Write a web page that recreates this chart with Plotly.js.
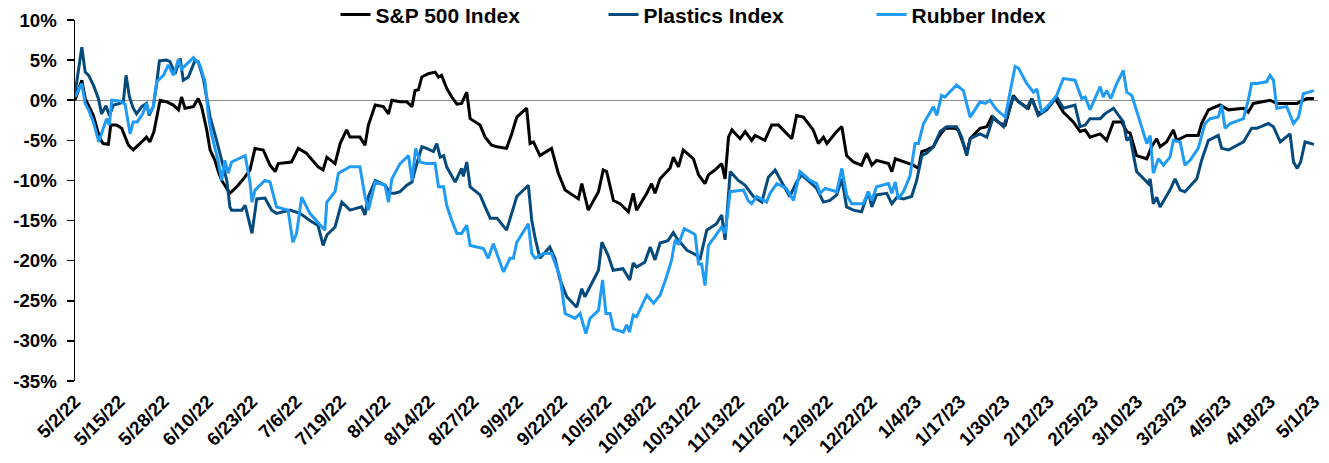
<!DOCTYPE html>
<html>
<head>
<meta charset="utf-8">
<script src="https://cdn.plot.ly/plotly-3.0.1.min.js"></script>
<style>html,body{margin:0;padding:0;background:#fff}#chart{width:1329px;height:463px}</style>
</head>
<body>
<div id="chart"></div>
<script>
// Dates are given as days after 5/2/2022 (the first day on the chart)
const baseDate = '2022-05-02';

const seriesNames = ['S&P 500 Index', 'Plastics Index', 'Rubber Index'];
const seriesColors = ['#000000', '#054a7c', '#1f9bf5'];

const spDays = [0,2,3,4,5.4,7.3,8.3,9.8,10.5,12.2,13.7,15.7,17.1,19.6,21,22,23.2,25,27,28.9,30.4,31.3,32.3,34.8,36.2,37.2,38.7,39.7,41.1,42.1,43.1,45.5,47.5,49.5,51.4,52.9,55.3,57.3,58.8,59.7,63.6,65.6,68,69,71.4,72.9,74,76.4,77.9,79.8,80.8,
  83.7,85.2,86.2,88.2,90.6,92.1,93.1,95.5,97.5,99,99.9,100.9,101.9,103.8,105.8,106.8,107.7,109.2,110.7,112.2,113.6,115.1,116.1,119,120.5,122.4,124,126.8,128.3,129.8,132.7,133.7,134.7,136.6,140,142,144,147.9,148.9,150.8,153.8,155.2,156.2,158.2,160.1,162.6,164,165,168,169.4,170.4,171.9,173.4,174.8,175.8,177.3,178.7,181.7,183.2,185.1,186.1,188,190,191,192,193,195.4,196.9,198.8,199.8,202.7,204.7,206.7,208.6,210.6,212,214,216.9,218.4,219.9,220.9,223.8,225.3,226.7,228.7,231.1,232.6,234.1,235.5,239,240,241,243.4,246.3,247.8,248.8,250.2,252.2,253.7,255.6,258.6,259.5,262,263,265.9,267.9,269.3,271.8,273.3,275.7,277.2,280.1,281.1,283,285.5,288,290.4,293.3,295.3,296.8,298.2,301.2,303.1,305.1,307.5,309,310,311.9,314.9,316.3,317.8,318.8,320.7,322.7,323.7,326.6,330,331,333,336.4,338.9,343.3,344.7,346.2,351.1,353.1,357.5,359,361.9,364];
const spValues = [0,2.5,0.2,-0.6,-1.9,-4.8,-5.4,-5.5,-3.1,-3.1,-3.5,-5.6,-6.2,-5.2,-4.6,-5.2,-3.9,0,-0.2,-0.6,-1.2,0.4,-1,-0.8,0.2,-0.8,-3.7,-6.2,-7.5,-8.9,-10,-11.6,-10.8,-9.8,-8.7,-6.0,-6.2,-8.1,-8.9,-7.9,-7.7,-6.0,-6.6,-7.1,-8.3,-8.7,-7.1,-7.9,-5.4,-3.7,-4.6,
  -4.6,-5.6,-3.1,-0.6,-0.8,-1.7,0,-0.2,-0.2,-0.8,1.2,1.3,2.9,3.3,3.5,2.9,3.1,1.5,0.4,-0.5,-0.4,1.0,-2.3,-3.1,-4.6,-5.6,-5.8,-6.0,-4.2,-2.1,-1.0,-5.4,-5.2,-6.9,-6.0,-9.1,-11.2,-12.3,-10.4,-13.7,-11.4,-8.7,-8.9,-12.5,-12.9,-13.9,-11.6,-13.7,-11.6,-10.4,-11.6,-9.8,-9.1,-8.5,-7.1,-8.3,-6.2,-7.3,-9.3,-10.4,-9.3,-8.7,-7.9,-9.8,-4.6,-3.7,-4.8,-3.9,-5,-4.4,-5,-3.1,-3.1,-3.9,-4.8,-1.9,-2.1,-3.7,-5.4,-4.6,-5.4,-3.9,-3.3,-6.9,-7.7,-8.1,-6.6,-8.1,-7.5,-7.9,-8.9,-7.3,-7.7,-8.1,-8.5,-6.4,-6.2,-5.8,-4.6,-3.5,-3.5,-3.7,-6.6,-4.8,-3.5,-3.3,-2.1,-2.9,-3.1,0.6,-0.2,-1,0.2,-1.7,-1.0,0.2,-1.5,-2.7,-3.9,-3.7,-4.6,-4.2,-5,-2.7,-2.7,-3.9,-4.1,-6.9,-7.3,-5.8,-4.8,-5.8,-5.2,-3.7,-5,-4.4,-4.4,-2.9,-1.2,-0.6,-1.2,-1.0,-1.5,-0.4,0,-0.4,-0.4,-0.4,0.2,0.2];

const plDays = [0,2,3,4,5.4,6.9,7.8,9.1,10.1,11.3,13.2,14.2,15,16,17.1,18.1,19.6,21,21.8,23,24,24.8,26.9,27.9,29.4,30.9,31.8,33.3,35.3,36.2,37.7,39.7,41.6,43.1,44.6,
  45.5,46,49,50,52,53.4,55.8,57.8,59.2,63.2,66.1,69,71.4,72.9,74,76.4,78.4,80.8,
  84.2,85.2,86.2,88.2,91.1,92.6,94,95.5,97.5,99,99.9,101.9,103.3,105.3,106.3,107.3,108.3,109.2,111.7,113.6,114.1,115.1,116.1,119,120.5,122,124,126.8,128.3,129.8,133.2,
  134.2,135.2,136.6,139.5,141,142.5,144.5,147.4,148.9,149.8,153.8,154.8,156.6,158.1,161,163,164,165,167.4,169,170.4,171.9,174.2,175.8,176.8,179.8,182.6,183.6,185.6,
  188.5,190,191,192.5,194.9,196.9,199.3,201.8,203.7,205.7,207.6,210,212,213.5,216.9,217.9,219.9,221.8,223.8,225.3,226.7,228.7,231.1,233.1,234.1,235.5,238.5,240,241.5,243.4,245.8,247.3,248.8,250.2,252.2,254.2,256.1,259,260.5,262,263,265.9,267.9,269.8,272.8,275.7,279.6,281.1,283,285.5,288.4,290.4,293.8,295.3,296.8,298.2,301.2,302.6,305.1,308,309,310,311.9,315.4,315.9,316.8,317.8,318.8,321.7,323.2,324.7,326.1,329.6,331,333,335.9,336.9,338.9,343.3,345.7,347.2,350.6,352.1,354.1,357,358,359.1,360.1,361.4,364];
const plValues = [0.8,6.6,3.5,3.1,1.9,0.2,-1.7,-0.7,-1.9,-0.6,-0.4,-0.2,3.1,0.4,-1,-1.7,-0.8,-0.4,-1.9,-0.8,2.1,4.9,5.0,4.8,3.3,5.2,2.5,2.9,5,4.8,2.7,-2.1,-5,-7.5,-10,
  -13.3,-13.7,-13.7,-13.1,-16.6,-12.3,-12.2,-13.7,-14.1,-13.7,-14.1,-15,-15.6,-18.1,-16.8,-15.8,-12.7,-13.7,
  -13.3,-14.3,-12.0,-10.0,-10.6,-11.6,-11.6,-11.4,-10.6,-10.2,-8.7,-5.8,-6.0,-6.4,-5.4,-7.1,-6.9,-8.3,-10.2,-8.5,-9.5,-7.7,-10.8,-11.8,-13.3,-14.7,-14.7,-16.2,-14.1,-12.0,-10.6,
  -15.0,-17.2,-19.7,-18.3,-19.7,-22.4,-24.5,-25.8,-23.5,-24.5,-21.2,-17.7,-19.3,-21.2,-21.0,-22.4,-20.3,-20.8,-20.2,-18.3,-19.9,-17.8,-17.5,-16.5,-17.2,-18.7,-19.3,-19.9,-16.2,
  -15.4,-14.3,-17.4,-8.9,-10.0,-10.6,-12.0,-12.7,-9.6,-8.7,-10.2,-12.0,-10.2,-9.3,-10.6,-11.0,-12.7,-12.5,-11.8,-9.8,-13.3,-13.7,-13.9,-11.4,-13.3,-11.8,-11.6,-12.9,-12.1,-12.3,-12.0,-10.0,-6.9,-6.6,-5.8,-3.9,-3.3,-3.3,-4.6,-6.9,-4.8,-4.2,-4.6,-2.1,-3.3,0.4,-1.0,0.2,-1.9,-1.2,0.4,-1.0,-0.6,-3.3,-3.1,-2.3,-2.3,-1.7,-1.0,-2.7,-5.0,-4.6,-8.9,-10.4,-9.8,-12.9,-12.1,-13.3,-11.2,-9.8,-11.2,-11.4,-9.8,-7.5,-5.0,-4.4,-6.0,-6.2,-5.2,-3.5,-3.5,-2.9,-3.3,-5.2,-4.2,-7.7,-8.5,-7.7,-5.2,-5.5];

const ruDays = [0,2,3,4,5.4,7,8.3,9.3,10.1,10.8,13.2,14.7,16.2,17.1,18.3,19.9,21,21.8,23,24,26,27.4,28.9,30.4,31.3,34.8,36.7,38.2,39.2,40,42,43.1,44,45,46,50,51.4,52,52.9,55.8,57.3,59.2,62.6,64,65.1,66.6,69,71,73.4,74,76.4,77.4,80.8,83.7,85.2,86.2,
  88.2,91.1,92.1,93.1,95.5,98,99,100.1,101.4,103.3,105.8,106.8,108.3,109.2,110.7,112.2,113.6,115.1,116.1,120,121.4,122.9,125.9,127.8,128.8,129.8,133.2,134.2,135.2,137.6,140,142.5,144,146.9,148.4,150.1,151.3,153.8,155,156,157.2,158.2,161.1,162.1,162.9,164,165,168,170,171.9,173.8,175.3,176.3,177.3,179,181.7,182.2,183.2,184.1,185.1,186.1,188,190,191,192.5,196.4,197.8,198.8,200.3,203.2,204.2,206.2,209,211.1,213,216,217.9,218.9,220.4,223.8,225.3,226.7,228.2,231.6,233.1,234.1,235.5,239,240,241,241.9,243.4,245.3,246.8,247.8,249.3,252.2,253.2,254.6,255.6,259,261,263,265.9,267.4,268.8,270.8,273.3,274.7,276.2,277.2,279.6,281.6,282.6,284,286.5,288.4,290.4,293.8,295.8,296.8,298.2,301.2,302.1,303.1,304.3,306,308,309,310.5,314.9,315.9,316.8,318.3,319.8,321.7,322.7,324.7,326.1,327.6,330,332,333.5,335.9,336.9,337.9,339.4,343.3,344.7,345.7,347.2,350.1,351.1,352.1,353.1,356,358,359.5,360.9,364];
const ruValues = [0.4,2.1,-0.4,-1.2,-2.7,-5.2,-3.5,-2.3,-3.1,0,-0.1,-0.5,-4.2,-2.7,-2.7,-1.7,-0.4,-1.7,-0.8,2.3,3.1,4.4,3.1,5.1,3.9,5.3,4.4,2.3,-1.9,-4.0,-7.5,-10,-7.5,-9.1,-7.7,-6.9,-10.2,-12.7,-11.2,-10,-10.2,-13.3,-13.7,-17.7,-16.6,-12.1,-14.1,-15.0,-16.2,-12.7,-11.4,-9.1,-8.3,-8.3,-12.0,-13.7,
  -10.2,-10.6,-12.7,-9.8,-7.9,-6.9,-10.0,-6.0,-7.7,-7.9,-7.9,-10.8,-10.8,-13.1,-15.0,-16.6,-16.6,-15.6,-18.1,-18.5,-19.7,-17.9,-21.4,-19.7,-19.7,-17.7,-15.4,-19.1,-19.7,-19.1,-19.1,-22.0,-26.6,-27.2,-26.6,-29.1,-27.2,-26.2,-22.4,-26.6,-26.6,-28.5,-28.9,-28.0,-28.9,-26.8,-27.0,-24.3,-25.3,-24.3,-22.0,-19.9,-17.4,-18.0,-16.0,-16.6,-16.8,-20.4,-20.4,-23.1,-18.1,-17.0,-15.8,-16.6,-11.4,-11.2,-12.5,-12.9,-12.0,-12.7,-11.6,-10.4,-11.0,-12.5,-8.9,-10.0,-10.4,-11.6,-11.0,-11.4,-8.5,-11.8,-12.9,-12.9,-11.4,-12.5,-10.8,-10.4,-11.6,-10.2,-12.3,-11.4,-9.5,-5.4,-5.4,-2.9,-0.8,-1.9,0.6,0.4,1.9,1.2,-2.1,-0.2,-0.4,0,-1.2,-2.1,0.8,4.2,4.0,2.1,1.0,1.4,-1.5,-0.4,0.6,2.7,2.5,0.2,0.4,-1.2,1.7,0.4,1.2,0.2,2.0,3.7,1.0,0.6,-5.4,-4.4,-9.1,-7.3,-8.1,-7.1,-5.0,-5.2,-8.1,-7.5,-6.0,-2.9,-2.3,-2.1,-0.6,-3.5,-2.9,-2.3,0,2.1,2.1,2.3,3.1,2.5,-1.0,-0.8,-2.9,-2.1,0.8,1.2];

const xTickLabels = ['5/2/22','5/15/22','5/28/22','6/10/22','6/23/22','7/6/22','7/19/22','8/1/22','8/14/22','8/27/22','9/9/22','9/22/22','10/5/22','10/18/22','10/31/22','11/13/22','11/26/22','12/9/22','12/22/22','1/4/23','1/17/23','1/30/23','2/12/23','2/25/23','3/10/23','3/23/23','4/5/23','4/18/23','5/1/23'];
const yTickValues = [10,5,0,-5,-10,-15,-20,-25,-30,-35];
const yTickLabels = ['10%','5%','0%','-5%','-10%','-15%','-20%','-25%','-30%','-35%'];

const DAY = 86400000;
const base = Date.parse(baseDate + 'T00:00:00Z');
const toX = days => days.map(d => base + d * DAY);
const parseLabel = s => { const p = s.split('/').map(Number); return Date.UTC(2000 + p[2], p[0] - 1, p[1]); };

const dayArrays = [spDays, plDays, ruDays];
const valArrays = [spValues, plValues, ruValues];

const traces = seriesNames.map((name, i) => ({
  type: 'scatter', mode: 'lines', name: name,
  x: toX(dayArrays[i]), y: valArrays[i],
  line: {color: seriesColors[i], width: 3},
  hoverinfo: 'skip'
}));

const font = {family: 'Arial, "Liberation Sans", sans-serif', color: '#000', weight: 'bold'};

const layout = {
  width: 1329, height: 463,
  margin: {l: 75, r: 11, t: 20, b: 82, pad: 0, autoexpand: false},
  paper_bgcolor: '#fff', plot_bgcolor: '#fff',
  showlegend: true,
  legend: {
    orientation: 'h', x: 0.533, xanchor: 'center', y: 1.014, yanchor: 'middle',
    font: Object.assign({}, font, {size: 21}),
    entrywidth: 223, entrywidthmode: 'pixels',
    traceorder: 'normal', bgcolor: 'rgba(0,0,0,0)'
  },
  xaxis: {
    type: 'date',
    range: [base, base + 365.2 * DAY],
    tickmode: 'array',
    tickvals: xTickLabels.map(parseLabel),
    ticktext: xTickLabels,
    tickangle: -45,
    ticklabelstandoff: 5,
    ticks: '', showline: false, showgrid: false, zeroline: false,
    tickfont: Object.assign({}, font, {size: 18.67}),
    automargin: false,
    fixedrange: true
  },
  yaxis: {
    range: [-35, 10],
    tickmode: 'array', tickvals: yTickValues, ticktext: yTickLabels,
    ticks: 'outside', ticklen: 7, tickwidth: 1.5, tickcolor: '#000',
    ticklabelstandoff: 6,
    showline: true, linecolor: '#000', linewidth: 1.5,
    showgrid: false,
    zeroline: true, zerolinecolor: '#8c8c8c', zerolinewidth: 1,
    tickfont: Object.assign({}, font, {size: 18.67}),
    automargin: false,
    fixedrange: true
  }
};

Plotly.newPlot('chart', traces, layout, {staticPlot: true, displayModeBar: false});
</script>
</body>
</html>
